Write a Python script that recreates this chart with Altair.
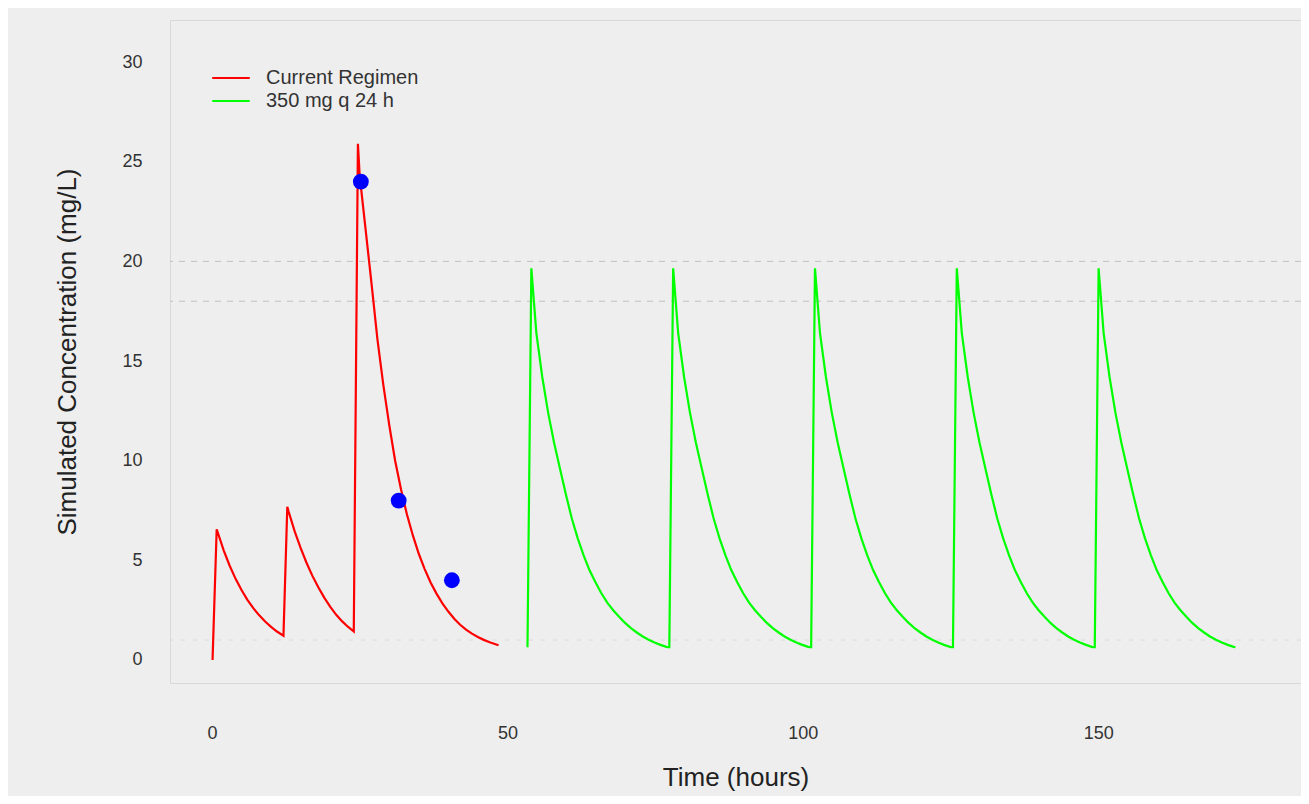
import altair as alt
import pandas as pd

# ---- data ----
red_time = [0.1, 0.8, 2, 3, 4, 5, 6, 7, 8, 9, 10, 11, 12.1,
            12.75, 13, 14, 15, 16, 17, 18, 19, 20, 21, 22, 23, 24.0,
            24.7, 25, 26, 27, 28, 29, 30, 31, 32, 33, 34, 35, 36,
            37, 38, 39, 40, 41, 42, 43, 44, 45, 46, 47, 48, 48.5]
red_conc = [0.0, 6.56, 5.49, 4.73, 4.07, 3.51, 3.02, 2.60, 2.24, 1.93, 1.66, 1.43, 1.22,
            7.69, 7.42, 6.45, 5.62, 4.88, 4.22, 3.65, 3.13, 2.68, 2.28, 1.95, 1.67, 1.43,
            25.9, 24.3, 21.6, 18.9, 16.1, 13.8, 11.8, 10.0, 8.55, 7.30, 6.25,
            5.33, 4.56, 3.89, 3.33, 2.84, 2.43, 2.07, 1.77, 1.52, 1.32, 1.15, 1.01, 0.89,
            0.79, 0.74]

# one 24 h cycle of the proposed regimen (hours after dose start)
green_offset = [0, 0.65, 1.5, 2.5, 3.5, 4.5, 5.5, 6.5, 7.5, 8.5, 9.5, 10.5, 11.5,
                12.5, 13.5, 14.5, 15.5, 16.5, 17.5, 18.5, 19.5, 20.5, 21.5, 22.5,
                23.5, 23.8]
green_conc = [0.64, 19.65, 16.4, 14.2, 12.4, 10.9, 9.6, 8.3, 7.1, 6.1, 5.25, 4.5, 3.9,
              3.35, 2.88, 2.5, 2.17, 1.86, 1.6, 1.38, 1.18, 1.02, 0.88, 0.76, 0.66, 0.64]
green_dose_start = [53.4, 77.4, 101.4, 125.4, 149.4]

obs_time = [25.2, 31.6, 40.6]
obs_conc = [24.0, 8.0, 4.0]

target_lines = [20, 18]
low_line = [1]

series_names = ["Current Regimen", "350 mg q 24 h"]
series_colors = ["#ff0000", "#00ff00"]

x_ticks = [0, 50, 100, 150]
y_ticks = [0, 5, 10, 15, 20, 25, 30]

# ---- tables ----
rows = [{"time": t, "conc": c, "series": series_names[0]} for t, c in zip(red_time, red_conc)]
for s in green_dose_start:
    for o, c in zip(green_offset, green_conc):
        rows.append({"time": round(s + o, 3), "conc": c, "series": series_names[1]})
lines_df = pd.DataFrame(rows)
obs_df = pd.DataFrame({"time": obs_time, "conc": obs_conc})
target_df = pd.DataFrame({"v": target_lines})
low_df = pd.DataFrame({"v": low_line})

FONT = "Liberation Sans"
W, H = 1131, 663
xscale = alt.Scale(domain=[-7.1, 184.3], nice=False, zero=False)
yscale = alt.Scale(domain=[-1.154, 32.11], nice=False, zero=False)

x_axis = alt.Axis(values=x_ticks, grid=False, domain=False, ticks=False, tickSize=0,
                  labelPadding=41, labelFontSize=18, labelFont=FONT, labelColor="#333333",
                  title="Time (hours)", titleFontSize=26, titleFont=FONT,
                  titleFontWeight="normal", titleColor="#222222", titlePadding=22)
y_axis = alt.Axis(values=y_ticks, grid=False, domain=False, ticks=False, tickSize=0,
                  labelPadding=28, labelFontSize=18, labelFont=FONT, labelColor="#333333",
                  title="Simulated Concentration (mg/L)", titleFontSize=26, titleFont=FONT,
                  titleFontWeight="normal", titleColor="#222222", titlePadding=41)

targets = alt.Chart(target_df).mark_rule(color="#c0c0c0", strokeWidth=1, strokeDash=[6, 6]).encode(
    y=alt.Y("v:Q", scale=yscale, axis=y_axis)
)
low = alt.Chart(low_df).mark_rule(color="#dadada", strokeWidth=1, strokeDash=[4, 8]).encode(
    y=alt.Y("v:Q", scale=yscale, axis=y_axis)
)

lines = alt.Chart(lines_df).mark_line(strokeWidth=2.2).encode(
    x=alt.X("time:Q", scale=xscale, axis=x_axis),
    y=alt.Y("conc:Q", scale=yscale, axis=y_axis),
    color=alt.Color(
        "series:N",
        scale=alt.Scale(domain=series_names, range=series_colors),
        legend=alt.Legend(
            orient="none", legendX=51, legendY=48, title=None,
            symbolType="M-2.5,0H2.5", symbolSize=225, symbolStrokeWidth=2,
            labelFontSize=20, labelFont=FONT, labelColor="#333333",
            labelOffset=25, rowPadding=3, padding=0,
        ),
    ),
)

points = alt.Chart(obs_df).mark_circle(size=250, color="#0000ff", opacity=1).encode(
    x=alt.X("time:Q", scale=xscale, axis=x_axis),
    y=alt.Y("conc:Q", scale=yscale, axis=y_axis),
)

chart = alt.layer(targets, low, lines, points).properties(
    width=W, height=H,
    autosize=alt.AutoSizeParams(type="none"),
    padding={"left": 162, "top": 12, "right": 0, "bottom": 113},
    background="#eeeeee",
).configure_view(stroke="#d8d8d8", strokeWidth=1)

chart.save("out.html", embed_options={"renderer": "svg", "actions": False})
